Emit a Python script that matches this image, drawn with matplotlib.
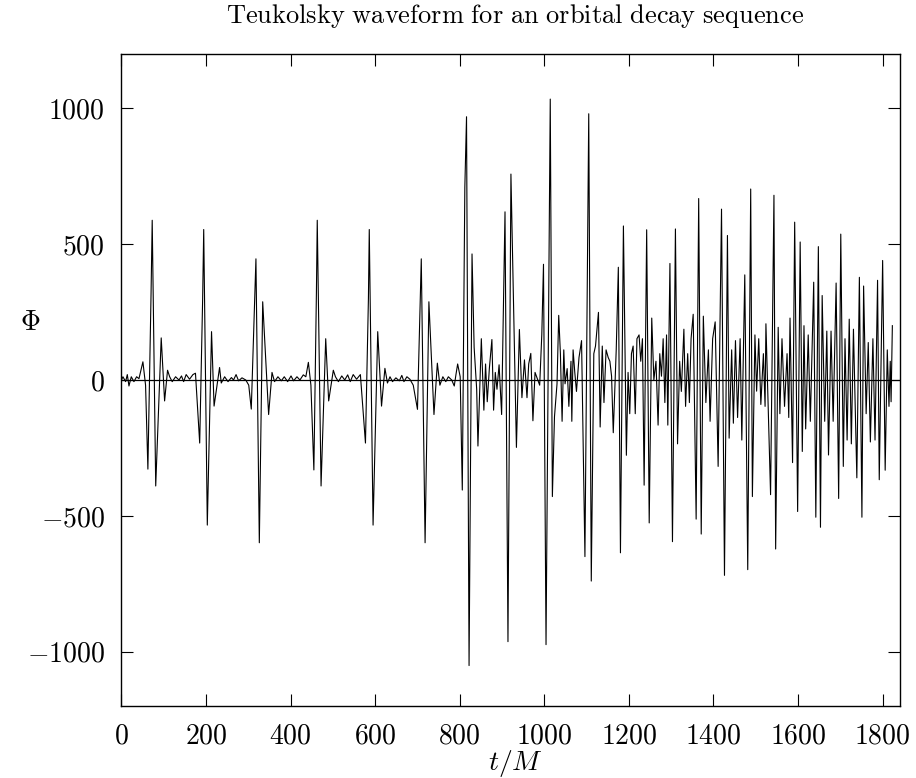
import numpy as np
import matplotlib.pyplot as plt

plt.rcParams['mathtext.fontset'] = 'cm'
plt.rcParams['font.family'] = 'serif'
plt.rcParams['font.serif'] = ['cmr10', 'DejaVu Serif']
plt.rcParams['axes.unicode_minus'] = False

# waveform turning points, early quasi-periodic bursts (t/M, Phi)
t_early = [0, 3.5, 9.8, 13.8, 17.7, 23.2, 29.5, 35.8, 41.4, 50.7, 57, 62.5, 70, 72.7, 81, 94, 102,
           109, 114, 120, 128, 136, 142, 147, 153, 161, 169, 175, 185, 192, 194.5, 203, 213, 219,
           232, 236, 244, 252, 260, 265, 271, 277, 285, 294, 301, 307, 318, 326, 334, 348,
           356, 362, 370, 378, 385, 393, 401, 407, 415, 422, 430, 436, 442, 448, 455, 461, 463,
           472, 483, 490, 501, 506, 513, 521, 528, 535, 541, 548, 556, 565, 577, 584, 586, 595,
           606, 615, 623, 629, 635, 641, 649, 657, 663, 668, 675, 682, 690, 700, 709, 718,
           727, 739, 747, 753, 760, 767, 773, 781, 787, 791, 795, 801]
phi_early = [0, 12, -6, 20, -22, 12, -6, 12, 5, 67, -19, -328, 320, 588, -390, 155, -77,
             36, 12, -6, 12, 0, 15, -6, 20, 3, 20, 25, -232, 300, 554, -534, 178, -96,
             46, -11, 12, -6, 9, 0, 20, -3, 8, 0, -19, -107, 446, -599, 288, -127,
             28, -6, 12, -3, 12, -6, 15, -3, 12, 0, 19, 12, 65, -19, -331, 320, 588,
             -390, 152, -77, 36, 12, -6, 15, 0, 19, -6, 20, 3, 20, -232, 300, 554, -534,
             178, -96, 43, -11, 12, -6, 8, -3, 17, -6, 12, 3, -19, -108, 446, -599,
             288, -127, 62, -19, 12, -6, 12, 0, -22, 20, 59, 12]

# turning points once the orbit starts to decay
t_plunge = [806, 812, 816, 822, 829, 834, 840, 843, 851, 857, 861, 865, 870, 876, 880, 884,
            888, 893, 899, 907, 914, 921, 934, 941, 947, 953, 959, 963, 968, 973, 978, 989,
            994, 998, 1004, 1014, 1019, 1024, 1030, 1034, 1038, 1042, 1046, 1049, 1054, 1058,
            1063, 1065, 1068, 1072, 1076, 1082, 1088, 1096, 1105, 1111, 1117, 1121, 1128, 1132,
            1137, 1141, 1146, 1151, 1155, 1159, 1163, 1170, 1175, 1180, 1187, 1194, 1198, 1202,
            1206, 1210, 1215, 1219, 1224, 1228, 1232, 1236, 1242, 1248, 1254, 1259, 1264, 1269,
            1273, 1277, 1281, 1285, 1289, 1292, 1297, 1303, 1310, 1315, 1320, 1324, 1330, 1334,
            1339, 1343, 1347, 1352, 1359, 1365, 1371, 1376, 1382, 1388, 1392, 1398, 1404]
phi_plunge = [-405, 709, 969, -1051, 464, 120, -34, -243, 152, -111, 59, -80, 43, 149, -111, 28,
              -34, 56, -127, 619, -963, 758, -248, 186, -65, 74, -65, 59, 98, -150, 28, -19,
              167, 426, -974, 1034, -429, -135, -14, 238, 97, -152, 111, -14, 42, -97,
              69, -152, 111, 28, -42, 83, 145, -650, 980, -740, 97, 125, 249, -173,
              125, -83, 111, 83, 69, 14, -194, 111, 415, -636, 567, -277, 28, -124,
              97, 125, -124, 152, 166, 69, 152, -387, 553, -526, 228, 0, 69, -166,
              97, 14, 152, -83, 166, -166, 429, -595, 556, -235, 69, -42, 187, -97,
              97, -83, 152, 242, -512, 668, -567, 235, -83, 111, -152, 152, 214]

t_late = [1411, 1419, 1426, 1433, 1437, 1443, 1447, 1452, 1457, 1463, 1467, 1474, 1481, 1488,
          1492, 1498, 1502, 1507, 1512, 1518, 1522, 1524, 1535, 1543, 1547, 1553, 1557, 1562,
          1568, 1574, 1578, 1581, 1587, 1592, 1599, 1605, 1610, 1614, 1618, 1624, 1629, 1637,
          1642, 1648, 1653, 1657, 1663, 1668, 1672, 1678, 1683, 1690, 1696, 1701, 1707, 1711,
          1716, 1721, 1726, 1731, 1739, 1745, 1751, 1755, 1761, 1766, 1771, 1777, 1782, 1788,
          1792, 1800, 1806, 1811, 1815, 1818, 1820, 1823]
phi_late = [-318, 629, -719, 532, -214, 111, -159, 145, -138, 152, -221, 387, -698, 703,
            -429, 166, -41, 152, -90, 97, -97, 207, -422, 680, -622, 194, -124, 152,
            -97, 97, -138, 228, -304, 581, -484, 508, -263, 200, -180, 166, -152, 360,
            -505, 491, -542, 311, -152, 180, -276, 180, -152, 357, -436, 537, -318, 152,
            -221, 224, -235, 187, -360, 378, -505, 346, -124, 138, -228, 152, -221, 367,
            -367, 440, -332, 111, -97, 69, -80, 200]

x_ticks = [0, 200, 400, 600, 800, 1000, 1200, 1400, 1600, 1800]
y_ticks = [-1000, -500, 0, 500, 1000]


def waveform_plot():
    t = np.array(t_early + t_plunge + t_late)
    phi = np.array(phi_early + phi_plunge + phi_late)

    fig = plt.figure(figsize=(9.16, 7.78), dpi=100)
    ax = fig.add_axes([0.1326, 0.0925, 0.8499, 0.8381])

    ax.axhline(0, color='black', linewidth=0.9)
    ax.plot(t, phi, color='black', linewidth=0.8)

    ax.set_xlim(0, 1841)
    ax.set_ylim(-1200, 1200)
    ax.set_xticks(x_ticks)
    ax.set_yticks(y_ticks)
    ax.set_xticklabels(['$%d$' % v for v in x_ticks])
    ax.set_yticklabels(['$%d$' % v for v in y_ticks])
    ax.tick_params(direction='in', length=8.5, width=0.8, top=True, right=True,
                   labelsize=20, pad=12, colors='black')
    for s in ax.spines.values():
        s.set_linewidth(1.0)

    fig.text(0.5622, 0.979, r'$\mathrm{Teukolsky\ waveform\ for\ an\ orbital\ decay\ sequence}$',
             ha='center', va='center', fontsize=19)
    fig.text(0.5622, 0.019, r'$t/M$', ha='center', va='center', fontsize=20)
    fig.text(0.033, 0.585, r'$\Phi$', ha='center', va='center', fontsize=20)

    fig.savefig('out.png', dpi=100)


def main():
    waveform_plot()


if __name__ == "__main__":
    main()
